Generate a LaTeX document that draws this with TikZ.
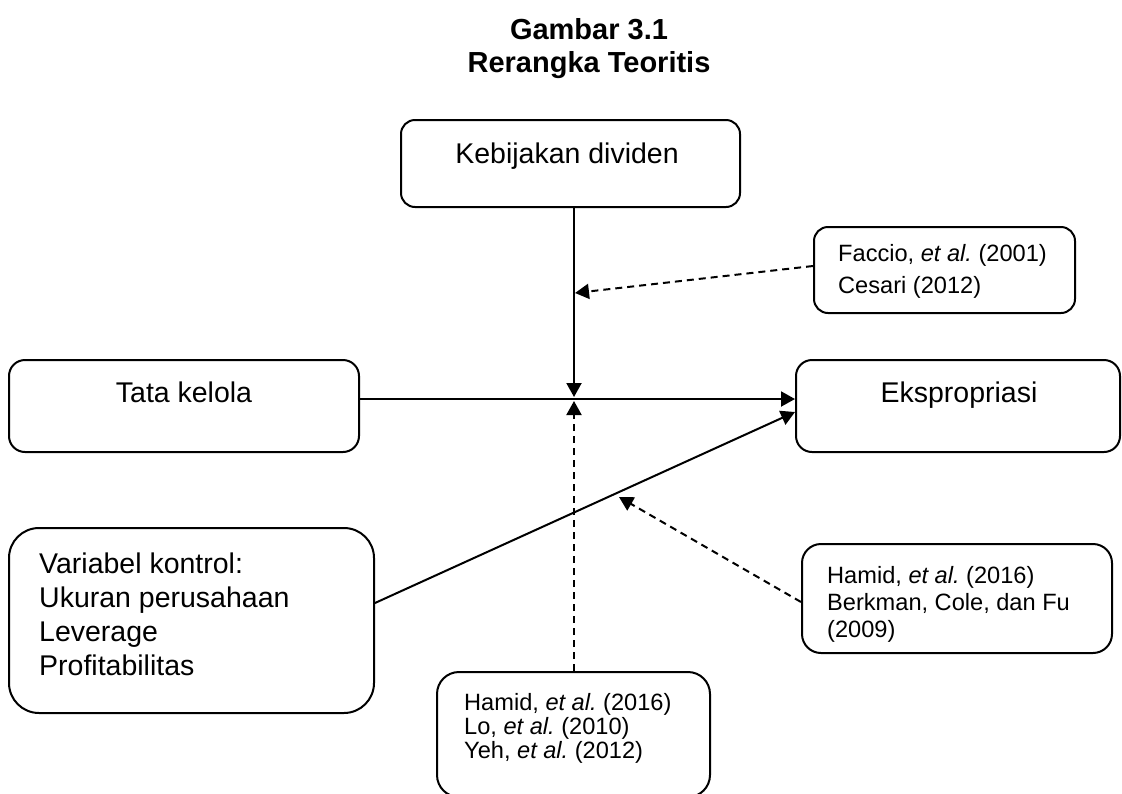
\documentclass[tikz,border=0pt]{standalone}
\usepackage{fontspec}
\setmainfont{Liberation Sans}
\usetikzlibrary{arrows.meta}
\frenchspacing
\tikzset{
  box/.style={draw, line width=2pt, inner sep=0pt},
  big/.style={font=\fontsize{28.5}{34}\selectfont},
  small/.style={align=left, inner sep=0pt, anchor=base west},
  arr/.style={line width=2pt, -{Triangle[length=14pt,width=15pt]}},
  dsh/.style={dash pattern=on 7pt off 5pt},
}
\newcommand{\etal}{{\itshape et al.}}
\begin{document}
\begin{tikzpicture}[x=1pt,y=-1pt]
\useasboundingbox (0,0) rectangle (1122,793);
% title (anchor at baseline of last line)
\node[font=\fontsize{29}{33}\selectfont\bfseries, align=center, anchor=base, inner sep=0pt] (title) at (589,72) {Gambar 3.1\\Rerangka Teoritis};
% boxes
\node[box, rounded corners=14pt, minimum width=339pt, minimum height=87pt] (kb) at (570.5,163.5) {};
\node[box, rounded corners=14pt, minimum width=261pt, minimum height=86pt] (fac) at (944.5,270) {};
\node[box, rounded corners=16pt, minimum width=350pt, minimum height=92pt] (tk) at (184,406) {};
\node[box, rounded corners=16pt, minimum width=324pt, minimum height=92pt] (ek) at (958,406) {};
\node[box, rounded corners=30pt, minimum width=365pt, minimum height=185pt] (vk) at (191.5,620.5) {};
\node[box, rounded corners=19pt, minimum width=310pt, minimum height=109pt] (hb) at (957,598.5) {};
\node[box, rounded corners=22pt, minimum width=273pt, minimum height=125pt] (hl) at (573.5,734.5) {};
% texts
\node[big, anchor=base] (tkb) at (567,163) {Kebijakan dividen};
\node[big, anchor=base] (ttk) at (184,402) {Tata kelola};
\node[big, anchor=base] (tek) at (959,402) {Ekspropriasi};
\node[small, font=\fontsize{28.5}{34}\selectfont] (tvk) at (39,675) {Variabel kontrol:\\Ukuran perusahaan\\Leverage\\Profitabilitas};
\node[small, font=\fontsize{23.6}{31.5}\selectfont] (tfac) at (838,293) {Faccio, \etal\ (2001)\\Cesari (2012)};
\node[small, font=\fontsize{23.6}{27}\selectfont] (thb) at (827,637) {Hamid, \etal\ (2016)\\Berkman, Cole, dan Fu\\(2009)};
\node[small, font=\fontsize{23.6}{23.7}\selectfont] (thl) at (464,758) {Hamid, \etal\ (2016)\\Lo, \etal\ (2010)\\Yeh, \etal\ (2012)};
% junction points
\coordinate (j1) at (574,397);
\coordinate (j2) at (574,401);
\coordinate (j3) at (575,293);
\coordinate (j4) at (619,497);
% connectors
\draw[arr] (kb.south -| j1) -- (j1);
\draw[arr] ([yshift=7pt]tk.east) -- ([yshift=7pt]ek.west);
\draw[arr] ([yshift=17.5pt]vk.east) -- ([yshift=-6pt]ek.west);
\draw[arr, dsh] ([yshift=4pt]fac.west) -- (j3);
\draw[arr, dsh] (hl.north -| j2) -- (j2);
\draw[arr, dsh] ([yshift=-3.5pt]hb.west) -- (j4);
\end{tikzpicture}
\end{document}
